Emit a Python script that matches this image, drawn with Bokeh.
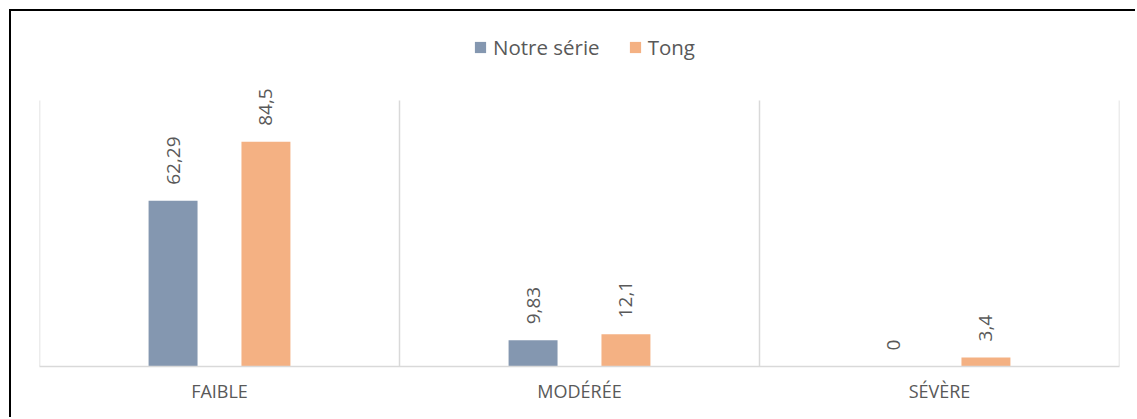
import math
from bokeh.plotting import figure
from bokeh.layouts import column, row
from bokeh.models import FactorRange, Range1d, Legend, LegendItem, ColumnDataSource, Spacer
from bokeh.transform import dodge
from bokeh.core.properties import value
from bokeh.embed import file_html
from bokeh.resources import INLINE

# ---- data ----
categories = ["FAIBLE", "MODÉRÉE", "SÉVÈRE"]
series_names = ["Notre série", "Tong"]
notre_serie = [62.29, 9.83, 0]
tong = [84.5, 12.1, 3.4]
y_max = 100

# ---- style ----
BLUE = "#8497B0"
ORANGE = "#F4B183"
TEXT = "#595959"
GRID = "#D9D9D9"
FONT = "Open Sans"
Y_VIEW_MAX = 130.1   # extra room above the value axis for labels and legend


def fmt(v):
    return f"{v:g}".replace(".", ",")


src = ColumnDataSource(dict(
    cat=categories,
    notre=notre_serie,
    tong=tong,
    notre_lbl=[fmt(v) for v in notre_serie],
    tong_lbl=[fmt(v) for v in tong],
))

p = figure(
    x_range=FactorRange(*categories),
    y_range=Range1d(0, Y_VIEW_MAX),
    width=1126, height=408,
    output_backend="svg", toolbar_location=None,
    min_border_left=28, min_border_right=18,
    min_border_top=9, min_border_bottom=53,
)
p.styles = {
    "border-top": "2px solid #000000",
    "border-left": "2px solid #000000",
}
p.outline_line_color = None
p.background_fill_color = "white"
p.border_fill_color = "white"
p.xgrid.grid_line_color = None
p.ygrid.grid_line_color = None
p.yaxis.visible = False

# category separators (vertical gridlines at factor boundaries, 0..y_max)
n = len(categories)
p.segment(x0=list(range(n + 1)), y0=[0] * (n + 1),
          x1=list(range(n + 1)), y1=[y_max] * (n + 1),
          line_color=GRID, line_width=1.5)

bw = 0.136
off = 0.129
r1 = p.vbar(x=dodge("cat", -off, range=p.x_range), top="notre", width=bw,
            source=src, fill_color=BLUE, line_color=None)
r2 = p.vbar(x=dodge("cat", off, range=p.x_range), top="tong", width=bw,
            source=src, fill_color=ORANGE, line_color=None)

for key, dx in (("notre", -off), ("tong", off)):
    p.text(x=dodge("cat", dx, range=p.x_range), y=key, text=key + "_lbl", source=src,
           angle=math.pi / 2, text_align="left", text_baseline="middle",
           y_offset=-16, text_font=value(FONT), text_font_size="19px",
           text_color=TEXT)

xa = p.xaxis[0]
xa.axis_line_color = GRID
xa.axis_line_width = 1.5
xa.major_tick_line_color = None
xa.minor_tick_line_color = None
xa.major_label_text_color = TEXT
xa.major_label_text_font = FONT
xa.major_label_text_font_size = "18px"
xa.major_label_standoff = 6

legend = Legend(
    items=[LegendItem(label=series_names[0], renderers=[r1]),
           LegendItem(label=series_names[1], renderers=[r2])],
    orientation="horizontal", location=(434, 305),
    border_line_color=None, background_fill_alpha=0,
    padding=0, margin=0, spacing=28, label_standoff=6,
    glyph_width=14, glyph_height=14,
    label_text_font=FONT, label_text_font_size="20.5px", label_text_color=TEXT,
)
p.add_layout(legend)

layout = column(Spacer(width=1, height=9), row(Spacer(width=9, height=1), p))

open("out.html", "w").write(file_html(layout, INLINE))
